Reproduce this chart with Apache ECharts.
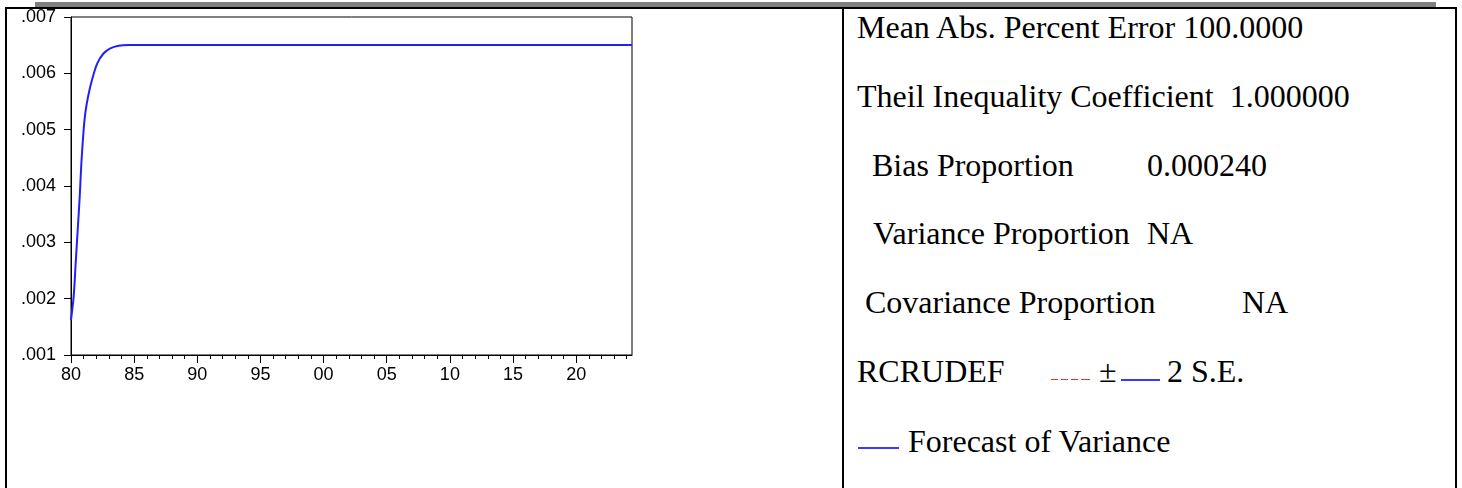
<!DOCTYPE html>
<html>
<head>
<meta charset="utf-8">
<title>Forecast of Variance</title>
<script src="https://cdn.jsdelivr.net/npm/echarts@6/dist/echarts.min.js"></script>
<style>
    body { margin: 0; background: #fff; }
    #page { position: relative; width: 1462px; height: 488px; overflow: hidden; background: #fff; }
    .rule { position: absolute; background: #000; }
    .txt { position: absolute; font-family: "Liberation Serif", "Times New Roman", serif; font-size: 32px; line-height: 32px; white-space: pre; color: #000; }
    .mark { position: absolute; height: 2px; }
    .dash { position: absolute; height: 1px; width: 7px; background: #ff2a2a; }
    #main1 { position: absolute; left: 0; top: 0; width: 842px; height: 488px; }
</style>
</head>
<body>
<div id="page">
    <div style="position:absolute;left:35px;top:2px;width:1401px;height:5px;background:#808080;"></div>
    <div class="rule" style="left:5px;top:7px;width:1452px;height:2px;"></div>
    <div class="rule" style="left:5px;top:7px;width:2px;height:481px;"></div>
    <div class="rule" style="left:842px;top:7px;width:2px;height:481px;"></div>
    <div class="rule" style="left:1455px;top:7px;width:2px;height:481px;"></div>

    <div id="main1"></div>

    <div class="txt" style="left:857px;top:11px;">Mean Abs. Percent Error 100.0000</div>
    <div class="txt" style="left:857px;top:80px;">Theil Inequality Coefficient  1.000000</div>
    <div class="txt" style="left:872px;top:149px;">Bias Proportion</div>
    <div class="txt" style="left:1147px;top:149px;">0.000240</div>
    <div class="txt" style="left:873px;top:217px;">Variance Proportion</div>
    <div class="txt" style="left:1147px;top:217px;">NA</div>
    <div class="txt" style="left:865px;top:286px;">Covariance Proportion</div>
    <div class="txt" style="left:1242px;top:286px;">NA</div>
    <div class="txt" style="left:857px;top:355px;">RCRUDEF</div>
    <div class="dash" style="left:1051px;top:379px;"></div>
    <div class="dash" style="left:1061px;top:379px;"></div>
    <div class="dash" style="left:1071px;top:379px;"></div>
    <div class="dash" style="left:1081px;top:379px;width:9px;"></div>
    <div class="txt" style="left:1099px;top:355px;">±</div>
    <div class="mark" style="left:1121px;top:379px;width:39px;background:#3b3bf5;"></div>
    <div class="txt" style="left:1167px;top:355px;">2 S.E.</div>
    <div class="mark" style="left:858px;top:447px;width:41px;background:#3b3bf5;"></div>
    <div class="txt" style="left:908px;top:425px;">Forecast of Variance</div>
</div>
<script>
    // 预测方差
    var obsYears = [1980.0, 1980.21, 1980.37, 1980.53, 1980.69, 1980.82, 1981.00, 1981.13, 1981.35, 1981.66, 1982.08, 1982.59, 1983.11, 1983.77, 1984.57, 2024.42];
    var forecastVar = [0.001621, 0.002035, 0.002628, 0.003219, 0.003810, 0.004403, 0.004994, 0.005291, 0.005585, 0.005882, 0.006178, 0.006356, 0.006444, 0.006491, 0.006503, 0.006505];

    // x ticks
    var majorYears = [1980, 1985, 1990, 1995, 2000, 2005, 2010, 2015, 2020];
    var minorYears = [];
    for (var y = 1980; y <= 2024; y++) {
        minorYears.push(y);
    }

    var myChart1 = echarts.init(document.getElementById('main1'));

    var seriesData = [];
    for (var i = 0; i < obsYears.length; i++) {
        seriesData.push([obsYears[i], forecastVar[i]]);
    }

    var labelFont = 'Liberation Sans';

    var option = {
        animation: false,
        grid: {
            left: 71,
            top: 17,
            width: 561,
            height: 338,
            show: true,
            borderColor: '#000',
            borderWidth: 1,
            containLabel: false,
            outerBoundsMode: 'none'
        },
        xAxis: [{
            type: 'value',
            min: 1980,
            max: 2024.42,
            position: 'bottom',
            axisLine: { show: true, onZero: false, lineStyle: { color: '#000', width: 1 } },
            axisTick: { show: true, length: 8, customValues: majorYears, lineStyle: { color: '#000' } },
            axisLabel: {
                customValues: majorYears,
                margin: 11,
                fontSize: 18,
                fontFamily: labelFont,
                color: '#000',
                formatter: function (v) {
                    var s = String(Math.round(v) % 100);
                    return s.length == 1 ? '0' + s : s;
                }
            },
            splitLine: { show: false }
        }, {
            type: 'value',
            min: 1980,
            max: 2024.42,
            position: 'bottom',
            axisLine: { show: false, onZero: false },
            axisTick: { show: true, length: 4, customValues: minorYears, lineStyle: { color: '#000' } },
            axisLabel: { show: false },
            splitLine: { show: false }
        }],
        yAxis: [{
            type: 'value',
            min: 0.001,
            max: 0.007,
            interval: 0.001,
            axisLine: { show: true, onZero: false, lineStyle: { color: '#000', width: 1 } },
            axisTick: { show: true, length: 7, lineStyle: { color: '#000' } },
            axisLabel: {
                margin: 15,
                fontSize: 18,
                fontFamily: labelFont,
                color: '#000',
                formatter: function (v) {
                    return v.toFixed(3).replace(/^0/, '');
                }
            },
            splitLine: { show: false }
        }],
        series: [{
            name: 'Forecast of Variance',
            type: 'line',
            xAxisIndex: 0,
            data: seriesData,
            showSymbol: false,
            smooth: 0.3,
            lineStyle: { color: '#2020ff', width: 2 }
        }]
    };

    myChart1.setOption(option);
</script>
</body>
</html>
